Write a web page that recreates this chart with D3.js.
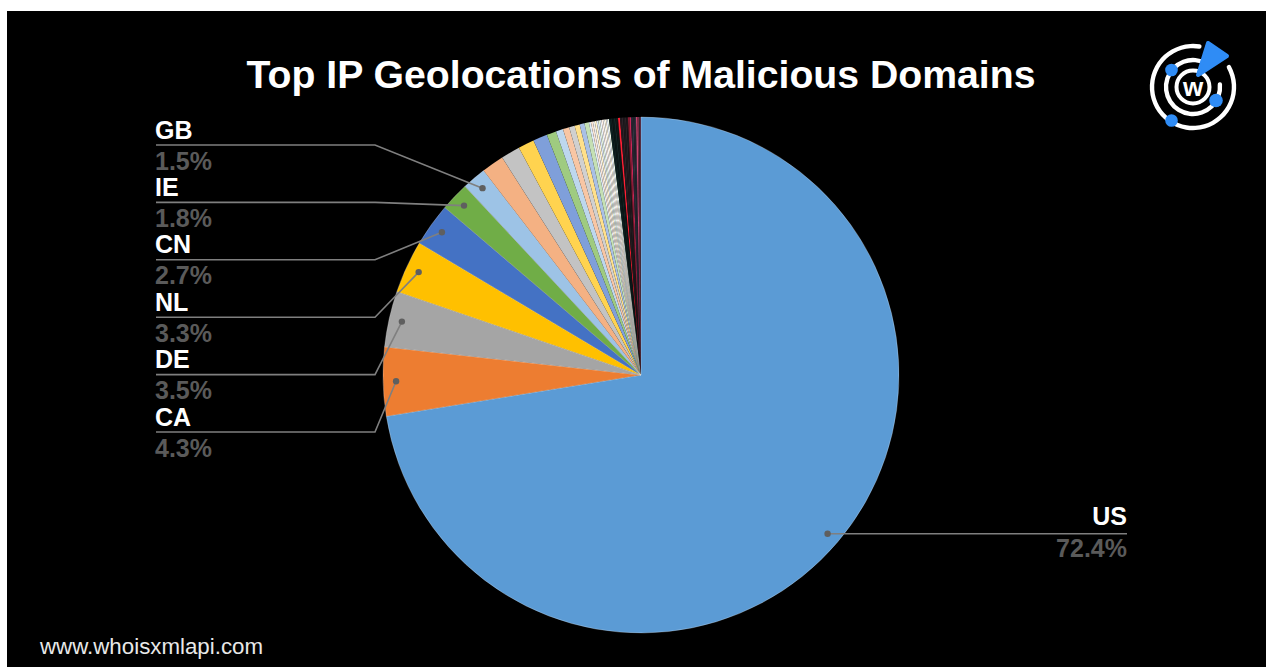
<!DOCTYPE html>
<html>
<head>
<meta charset="utf-8">
<script src="https://cdn.jsdelivr.net/npm/d3@7"></script>
<style>
  html, body { margin: 0; padding: 0; background: #ffffff; }
  svg { display: block; }
</style>
</head>
<body>
<svg id="chart" width="1266" height="667"></svg>
<script>
// ---- data ----
const title = "Top IP Geolocations of Malicious Domains";
const countries = ["US", "CA", "DE", "NL", "CN", "IE", "GB"];
const shares = [72.4, 4.3, 3.5, 3.3, 2.7, 1.8, 1.5];
const mainColors = ["#5b9bd5", "#ed7d31", "#a5a5a5", "#ffc000", "#4472c4", "#70ad47", "#9dc3e6"];
// unlabeled smaller locations
const otherShares = [
  1.4, 1.2, 1.0, 0.9, 0.6, 0.45, 0.4, 0.35, 0.32, 0.3, 0.28,
  0.13, 0.12, 0.12, 0.11, 0.11, 0.1, 0.1, 0.1, 0.1, 0.09, 0.09, 0.09,
  0.1, 0.1, 0.1, 0.1, 0.1, 0.06, 0.12,
  0.1, 0.1, 0.1, 0.1, 0.09, 0.1, 0.09,
  0.08, 0.08, 0.08, 0.07, 0.1, 0.09, 0.06, 0.06
];
const otherColors = [
  "#f4b183", "#c3c3c3", "#ffd34f", "#7f9fda", "#9fcb80", "#bdd7ee", "#f8c6a4", "#d0d0d0", "#ffe08a", "#a9c0e6", "#c5e0b4",
  "#deebf7", "#fbe5d6", "#ededed", "#fff2cc", "#dae3f3", "#e2f0d9", "#eaf2fa", "#fdf0e6", "#f4f4f4", "#fff7dd", "#e6ecf7", "#eef6e8",
  "#0f2424", "#102020", "#0b1818", "#142626", "#0d1a1a", "#1a1a1a", "#ff2035",
  "#241b20", "#2c2228", "#201a1e", "#2a2026", "#1e181c", "#8a1c30", "#c8285a",
  "#2a2a36", "#323240", "#262632", "#2e2e3a", "#c84470", "#7a2a44", "#3a2a36", "#5a3048"
];
const footer = "www.whoisxmlapi.com";

// ---- build ----
const data = countries.map((c, i) => ({ name: c, value: shares[i], color: mainColors[i] }))
  .concat(otherShares.map((v, i) => ({ name: "", value: v, color: otherColors[i] })));

const svg = d3.select("#chart");
const W = 1266, H = 667;

svg.append("rect").attr("x", 7).attr("y", 11).attr("width", W - 7).attr("height", H - 11).attr("fill", "#000");

svg.append("text")
  .attr("x", 641).attr("y", 88)
  .attr("text-anchor", "middle")
  .attr("font-family", "Liberation Sans, Arial, Helvetica, sans-serif")
  .attr("font-weight", "bold")
  .attr("font-size", 39.2)
  .attr("fill", "#ffffff")
  .text(title);

const cx = 641, cy = 375, R = 258;
const g = svg.append("g").attr("transform", `translate(${cx},${cy})`);

const pie = d3.pie().sort(null).value(d => d.value);
const arcs = pie(data);
const arc = d3.arc().innerRadius(0).outerRadius(R);

g.selectAll("path.slice").data(arcs).join("path")
  .attr("class", "slice")
  .attr("d", arc)
  .attr("fill", d => d.data.color)
  .attr("stroke", (d, i) => i < countries.length ? "rgba(255,255,255,0.35)" : "none")
  .attr("stroke-width", 0.7);

// ---- labels ----
const dotR = 245;
const fontFam = "Liberation Sans, Arial, Helvetica, sans-serif";
const lineColor = "#7f7f7f";
const labG = svg.append("g");

function dotPos(a) {
  const m = (a.startAngle + a.endAngle) / 2;
  return [cx + dotR * Math.sin(m), cy - dotR * Math.cos(m)];
}

// left labels, GB at top down to CA
const leftIdx = [6, 5, 4, 3, 2, 1];
leftIdx.forEach((idx, k) => {
  const a = arcs[idx];
  const [dx, dy] = dotPos(a);
  const ly = 145 + k * 57.4;
  labG.append("path")
    .attr("d", `M156,${ly}L375,${ly}L${dx},${dy}`)
    .attr("fill", "none").attr("stroke", lineColor).attr("stroke-width", 1.6);
  labG.append("circle").attr("cx", dx).attr("cy", dy).attr("r", 3.2).attr("fill", "#5f5f5f");
  labG.append("text").attr("x", 155).attr("y", ly - 6.5)
    .attr("font-family", fontFam).attr("font-weight", "bold").attr("font-size", 25)
    .attr("fill", "#ffffff").text(a.data.name);
  labG.append("text").attr("x", 155).attr("y", ly + 24.5)
    .attr("font-family", fontFam).attr("font-weight", "bold").attr("font-size", 25)
    .attr("fill", "#5a5a5a").text(d3.format(".1f")(a.data.value) + "%");
});

// US label (right)
{
  const a = arcs[0];
  const [dx, dy] = dotPos(a);
  labG.append("path")
    .attr("d", `M${dx},${dy}L1127,${dy}`)
    .attr("fill", "none").attr("stroke", lineColor).attr("stroke-width", 1.6);
  labG.append("circle").attr("cx", dx).attr("cy", dy).attr("r", 3.2).attr("fill", "#5f5f5f");
  labG.append("text").attr("x", 1127).attr("y", dy - 8.5).attr("text-anchor", "end")
    .attr("font-family", fontFam).attr("font-weight", "bold").attr("font-size", 25)
    .attr("fill", "#ffffff").text(a.data.name);
  labG.append("text").attr("x", 1127).attr("y", dy + 23).attr("text-anchor", "end")
    .attr("font-family", fontFam).attr("font-weight", "bold").attr("font-size", 25)
    .attr("fill", "#5a5a5a").text(d3.format(".1f")(a.data.value) + "%");
}

// footer
svg.append("text").attr("x", 40).attr("y", 654)
  .attr("font-family", fontFam).attr("font-size", 22.3)
  .attr("fill", "#e8e8e8").text(footer);

// ---- logo ----
const lg = svg.append("g").attr("transform", "translate(1193,87)");
const ringArc = (r, a0, a1) => d3.arc().innerRadius(r - 2.2).outerRadius(r + 2.2).startAngle(a0).endAngle(a1).cornerRadius(2.2)();
const deg = Math.PI / 180;
lg.append("path").attr("d", ringArc(41, 58 * deg, 372 * deg)).attr("fill", "#fff");
lg.append("path").attr("d", ringArc(27, 80 * deg, 395 * deg)).attr("fill", "#fff");
lg.append("circle").attr("r", 16.5).attr("fill", "none").attr("stroke", "#fff").attr("stroke-width", 4);
lg.append("text").attr("x", 0).attr("y", 8.5).attr("text-anchor", "middle")
  .attr("font-family", fontFam).attr("font-weight", "bold").attr("font-size", 26).attr("fill", "#fff").text("w");
const blue = "#2f8cf5";
lg.append("circle").attr("cx", -21.5).attr("cy", -17).attr("r", 6.3).attr("fill", blue);
lg.append("circle").attr("cx", 23).attr("cy", 13.5).attr("r", 6.8).attr("fill", blue);
lg.append("circle").attr("cx", -21.5).attr("cy", 33.5).attr("r", 6.3).attr("fill", blue);
lg.append("path").attr("d", "M15,-44 L34,-31 L5,-12 Z")
  .attr("fill", blue).attr("stroke", blue).attr("stroke-width", 4).attr("stroke-linejoin", "round");
</script>
</body>
</html>
